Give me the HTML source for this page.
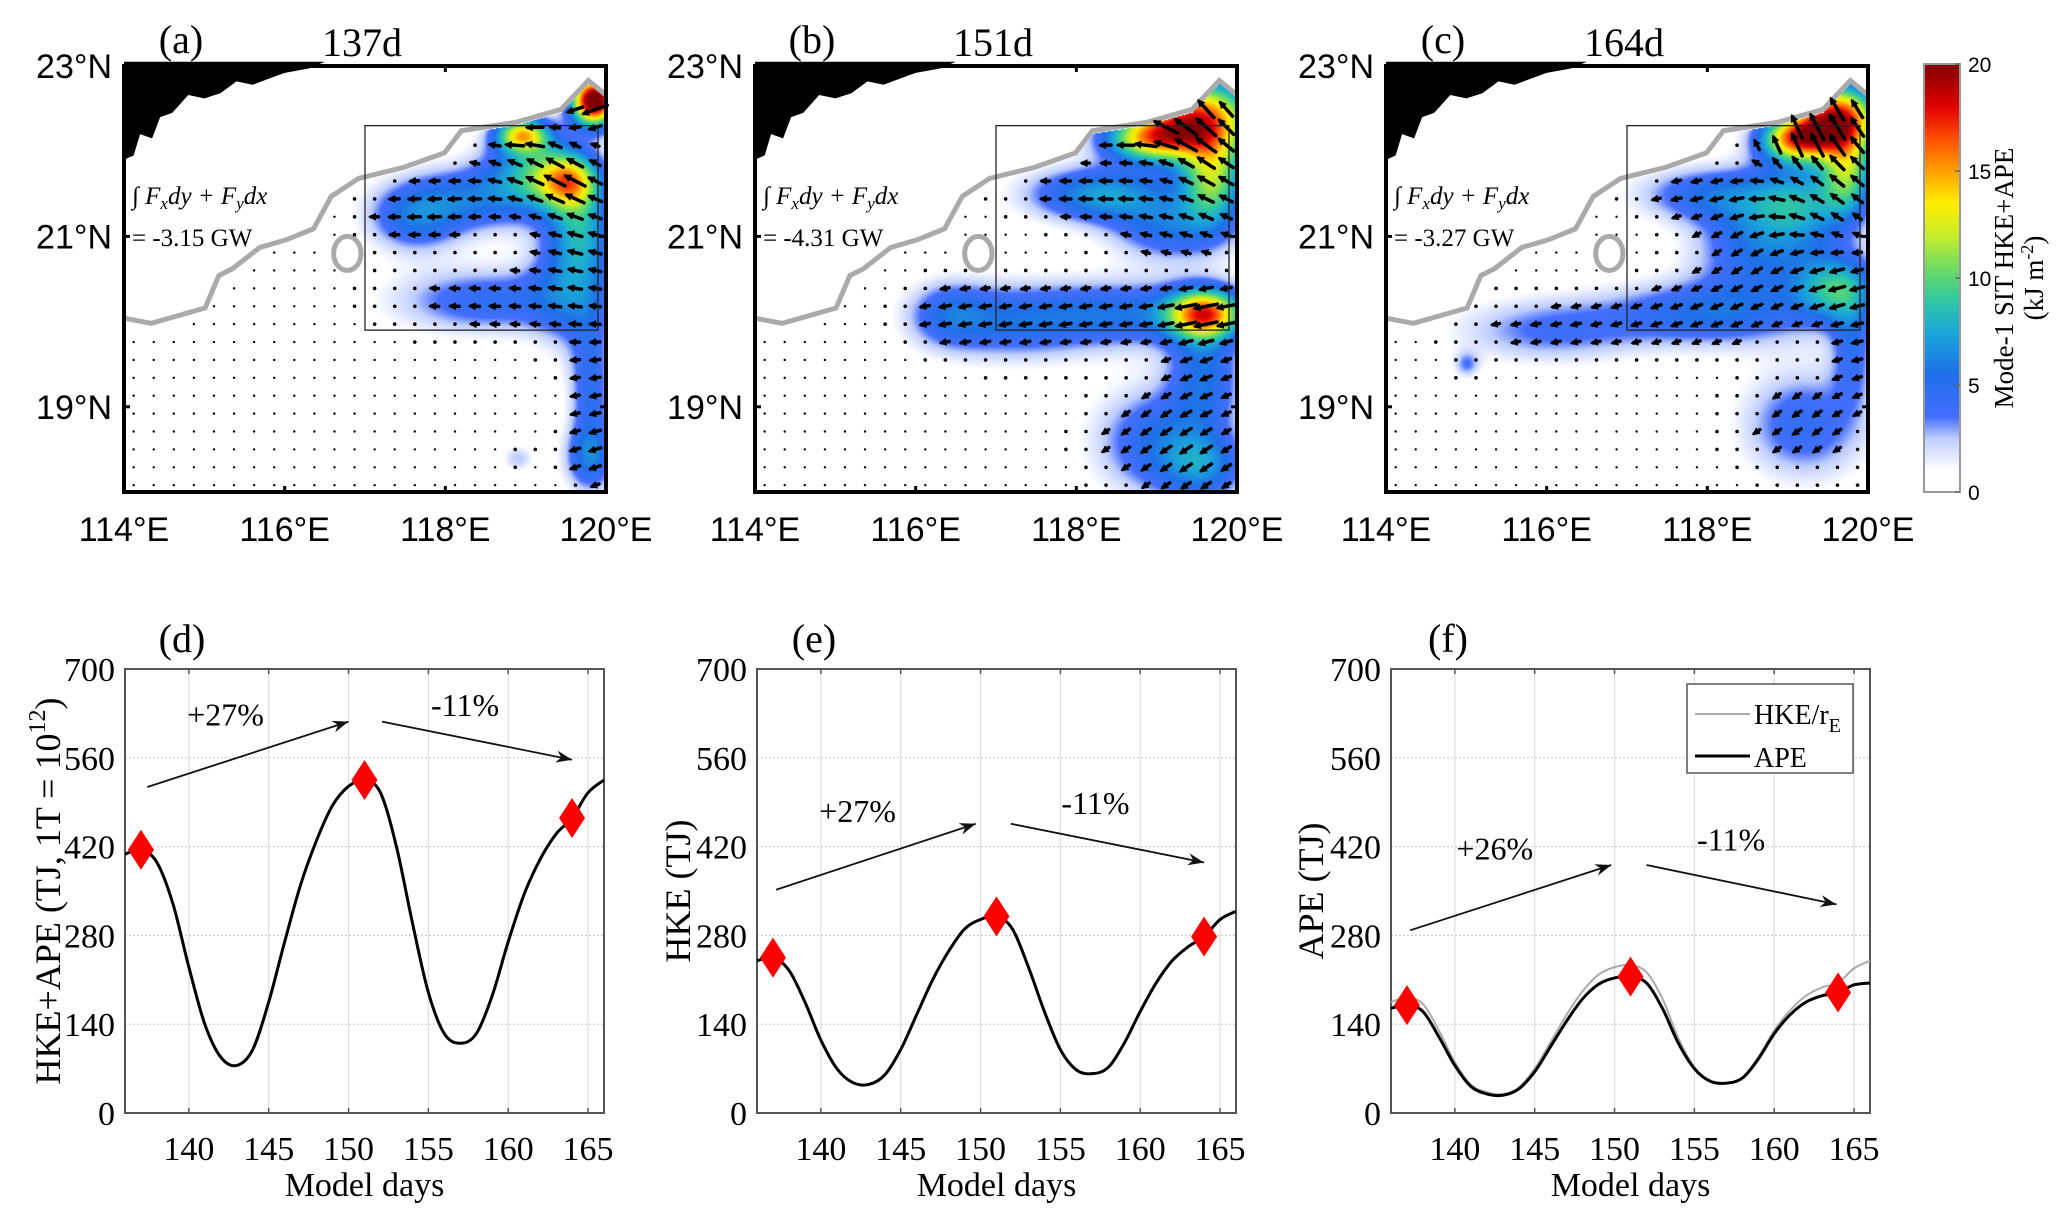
<!DOCTYPE html>
<html><head><meta charset="utf-8">
<style>
html,body{margin:0;padding:0;background:#fff;}
#wrap{position:relative;width:2067px;height:1216px;overflow:hidden;background:#fff;}
canvas{position:absolute;}
svg{position:absolute;left:0;top:0;}
</style></head>
<body>
<div id="wrap">
<canvas id="cv0" width="482" height="426" style="left:124px;top:66px"></canvas>
<canvas id="cv1" width="482" height="426" style="left:755px;top:66px"></canvas>
<canvas id="cv2" width="482" height="426" style="left:1386px;top:66px"></canvas>
<svg id="svg" width="2067" height="1216" xmlns="http://www.w3.org/2000/svg"></svg>
</div>
<script>
// ---------- line chart data ----------
const days = [136,137,138,139,140,141,142,143,144,145,146,147,148,149,150,151,152,153,154,155,156,157,158,159,160,161,162,163,164,165,166];
const hkeApe = [408,415,395,330,230,140,88,75,100,175,270,360,430,485,515,525,505,420,300,190,125,110,125,185,270,345,400,440,465,505,525];
const hke = [240,245,225,175,115,70,48,45,60,100,155,210,255,290,305,310,290,230,160,100,68,62,72,110,160,205,240,262,278,305,318];
const ape = [165,170,160,120,75,42,30,28,38,65,105,145,180,203,213,215,205,165,110,70,50,47,55,85,125,155,175,185,190,202,205];
const hkeRe = [175,182,172,130,80,45,33,30,40,70,112,155,192,218,230,233,222,180,118,72,50,47,55,88,130,162,185,198,205,228,240];
const markerDays = [137,151,164];
const yTicks = [0,140,280,420,560,700];
const xTicks = [140,145,150,155,160,165];
const cbTicks = [0,5,10,15,20];
const latTicks = [19,21,23];
const lonTicks = [114,116,118,120];

// ---------- map data: blobs [lon, lat, rx, ry, level, direction(deg)] ----------
const blobsA = [[119.85,22.6,0.22,0.22,22,200],[118.95,22.2,0.25,0.15,12,190],[119.55,21.65,0.3,0.25,11,150],[119.1,21.8,0.45,0.35,7,150],[118.3,21.45,0.7,0.3,5,185],[117.6,21.2,0.45,0.3,4.5,180],[118.5,20.25,0.9,0.3,4.5,178],[119.6,20.5,0.4,0.6,5,170],[119.7,21.1,0.3,0.4,5,160],[119.8,19.2,0.2,0.6,4.5,190],[119.8,18.4,0.25,0.3,5,200],[118.9,18.4,0.15,0.12,2.5,180]];
const blobsB = [[119.5,22.4,0.55,0.35,16,130],[118.9,22.15,0.45,0.2,11,190],[119.7,21.7,0.3,0.4,10,150],[118.3,21.5,0.7,0.25,7,180],[119.2,21.1,0.6,0.3,5,165],[119.6,20.1,0.35,0.22,14,190],[118.7,20.1,0.9,0.3,5,190],[117.2,20.0,0.8,0.35,4.5,190],[116.4,20.1,0.4,0.3,3.5,190],[119.6,19.4,0.35,0.5,5,200],[119.0,18.6,0.6,0.5,5,215],[119.6,18.3,0.4,0.3,5,215]];
const blobsC = [[119.6,22.4,0.4,0.3,17,120],[119.1,22.15,0.35,0.2,14,110],[119.75,21.8,0.25,0.4,9,140],[119.2,21.4,0.5,0.4,6,140],[118.0,21.5,0.7,0.25,4.5,190],[118.6,20.9,0.6,0.5,5,215],[119.6,20.4,0.4,0.3,8,195],[118.0,20.1,1.0,0.3,5,200],[116.0,19.9,0.9,0.3,3.5,190],[115.0,19.5,0.12,0.12,3,180],[119.2,18.8,0.6,0.5,4.5,215],[119.8,19.7,0.2,0.5,4,190]];
const coast = [[114.0,20.04],[114.34,19.98],[115.01,20.16],[115.18,20.54],[115.35,20.62],[115.69,20.87],[116.02,20.96],[116.36,21.09],[116.58,21.47],[116.92,21.68],[117.48,21.81],[117.99,21.98],[118.2,22.24],[118.88,22.34],[119.44,22.49],[119.78,22.83],[120.0,22.66]];
const land = [[114,23.05],[116.5,23.05],[116.3,22.97],[116.0,22.92],[115.8,22.85],[115.6,22.78],[115.4,22.82],[115.2,22.68],[115.0,22.62],[114.8,22.66],[114.6,22.45],[114.45,22.4],[114.35,22.15],[114.2,22.2],[114.12,21.95],[114,21.9]];

const MAPS = [
 {x0:124,lab:'(a)',day:'137d',flux:'= -3.15 GW',blobs:blobsA,cv:'cv0',key:'a'},
 {x0:755,lab:'(b)',day:'151d',flux:'= -4.31 GW',blobs:blobsB,cv:'cv1',key:'b'},
 {x0:1386,lab:'(c)',day:'164d',flux:'= -3.27 GW',blobs:blobsC,cv:'cv2',key:'c'}
];
const MY0=66, MW=482, MH=426;

const NS='http://www.w3.org/2000/svg';
const svg=document.getElementById('svg');
function el(tag,attrs,parent){const e=document.createElementNS(NS,tag);for(const k in attrs)e.setAttribute(k,attrs[k]);(parent||svg).appendChild(e);return e;}
function txt(s,attrs,parent){const e=el('text',attrs,parent);e.textContent=s;return e;}

const stops=[[0,[255,255,255]],[1,[255,255,255]],[2.5,[190,205,255]],[3.5,[70,110,255]],[5.5,[31,111,232]],[7.5,[26,168,216]],[9,[48,200,160]],[10.5,[112,220,96]],[12,[200,236,40]],[13.5,[255,238,0]],[15,[255,160,0]],[16.5,[255,80,0]],[18,[224,0,0]],[20,[128,0,0]]];
function cmap(v){if(v<=0)return stops[0][1];if(v>=20)return stops[stops.length-1][1];
 for(let i=1;i<stops.length;i++){if(v<=stops[i][0]){const a=stops[i-1],b=stops[i],t=(v-a[0])/(b[0]-a[0]);return [0,1,2].map(k=>Math.round(a[1][k]+(b[1][k]-a[1][k])*t));}}return [128,0,0];}
function coastLat(lon){for(let i=1;i<coast.length;i++){if(lon<=coast[i][0]){const a=coast[i-1],b=coast[i];const t=(lon-a[0])/(b[0]-a[0]);return a[1]+(b[1]-a[1])*t;}}return coast[coast.length-1][1];}
function field(blobs,lon,lat){let v=0,dx=0,dy=0;for(const b of blobs){const u=(lon-b[0])/b[2],w=(lat-b[1])/b[3];const c=b[4]*Math.exp(-0.6*(u*u+w*w));v+=c;const a=b[5]*Math.PI/180;dx+=c*Math.cos(a);dy+=c*Math.sin(a);}return {v,dx,dy};}
const isl={lon:116.78,lat:20.8,rx:0.17,ry:0.2};
function inIsland(lon,lat){const u=(lon-isl.lon)/isl.rx,w=(lat-isl.lat)/isl.ry;return u*u+w*w<1.3;}

MAPS.forEach(m=>{
 const lx=lon=>m.x0+(lon-114)/6*MW, ly=lat=>MY0+(23-lat)/5*MH;
 const ctx=document.getElementById(m.cv).getContext('2d');
 const img=ctx.createImageData(MW,MH);
 for(let j=0;j<MH;j++){const lat=23-j/MH*5;
  for(let i=0;i<MW;i++){const lon=114+i/MW*6;let c=[255,255,255];
   if(lat<coastLat(lon)-0.03 && !inIsland(lon,lat)){c=cmap(field(m.blobs,lon,lat).v);}
   const p=(j*MW+i)*4;img.data[p]=c[0];img.data[p+1]=c[1];img.data[p+2]=c[2];img.data[p+3]=255;}}
 ctx.putImageData(img,0,0);
 const g=el('g',{});
 
 
 const lp=el('polygon',{points:land.map(p=>lx(p[0])+','+ly(p[1])).join(' '),fill:'#000'},g);
 
 
 const cl=el('polyline',{points:coast.map(p=>lx(p[0])+','+ly(p[1])).join(' '),fill:'none',stroke:'#aaa','stroke-width':5},g);
 
 
 const ie=el('ellipse',{cx:lx(isl.lon),cy:ly(isl.lat),rx:isl.rx/6*MW,ry:isl.ry/5*MH,fill:'#fff',stroke:'#aaa','stroke-width':5},g);
 
 
 const qg=el('g',{},g);
 
 
 for(let lon=114.12;lon<120;lon+=0.25){for(let lat=18.08;lat<22.9;lat+=0.21){
   if(lat>coastLat(lon)-0.1||inIsland(lon,lat+0.02))continue;
   const f=field(m.blobs,lon,lat);const x=lx(lon),y=ly(lat);
   if(f.v<2.5){el('circle',{cx:x,cy:y,r:f.v<0.5?1.2:1.8,fill:'#000'},qg);continue;}
   const n=Math.hypot(f.dx,f.dy)||1;const ux=f.dx/n,uy=-f.dy/n;const L=Math.min(28,4+f.v*1.1);
   const x1=x-ux*L/2,y1=y-uy*L/2,x2=x+ux*L/2,y2=y+uy*L/2;
   el('line',{x1:x1,y1:y1,x2:x2,y2:y2,stroke:'#000','stroke-width':3.5,'stroke-linecap':'round'},qg);
   const hx=x2+ux*3,hy=y2+uy*3,px=-uy,py=ux;
   el('polygon',{points:`${hx},${hy} ${x2-ux*5+px*4},${y2-uy*5+py*4} ${x2-ux*5-px*4},${y2-uy*5-py*4}`,fill:'#000'},qg);
 }}
 const bx=el('rect',{x:lx(117),y:ly(22.3),width:lx(119.9)-lx(117),height:ly(19.9)-ly(22.3),fill:'none',stroke:'#222','stroke-width':1.3},g);
 
 
 el('rect',{x:m.x0,y:MY0,width:MW,height:MH,fill:'none',stroke:'#000','stroke-width':4},g);
 lonTicks.forEach(t=>{const x=lx(t);el('line',{x1:x,y1:MY0+MH,x2:x,y2:MY0+MH-6,stroke:'#000','stroke-width':3},g);el('line',{x1:x,y1:MY0,x2:x,y2:MY0+6,stroke:'#000','stroke-width':3},g);
  const t1=txt(t+'°E',{x:x,y:MY0+MH+49,'font-family':'Liberation Sans, sans-serif','font-size':34,'text-anchor':'middle'},g);
  });
 latTicks.forEach(t=>{const y=ly(t);el('line',{x1:m.x0,y1:y,x2:m.x0+6,y2:y,stroke:'#000','stroke-width':3},g);el('line',{x1:m.x0+MW,y1:y,x2:m.x0+MW-6,y2:y,stroke:'#000','stroke-width':3},g);
  const t1=txt(t+'°N',{x:m.x0-12,y:y+12,'font-family':'Liberation Sans, sans-serif','font-size':34,'text-anchor':'end'},g);
  });
 const tl=txt(m.lab,{x:m.x0+57,y:53,'font-family':'Liberation Serif, serif','font-size':40,'text-anchor':'middle'},g);
 
 const td=txt(m.day,{x:m.x0+MW/2-3,y:56,'font-family':'Liberation Serif, serif','font-size':40,'text-anchor':'middle'},g);
 
 const f1=txt('∫ ',{x:m.x0+8,y:204,'font-family':'Liberation Serif, serif','font-size':25},g);
 
 const ts=el('tspan',{'font-style':'italic'},f1);ts.textContent='F';
 const s1=el('tspan',{'font-style':'italic','font-size':17,dy:5},f1);s1.textContent='x';
 const s2=el('tspan',{'font-style':'italic',dy:-5},f1);s2.textContent='dy + F';
 const s3=el('tspan',{'font-style':'italic','font-size':17,dy:5},f1);s3.textContent='y';
 const s4=el('tspan',{'font-style':'italic',dy:-5},f1);s4.textContent='dx';
 const f2=txt(m.flux,{x:m.x0+8,y:246,'font-family':'Liberation Serif, serif','font-size':25},g);
 
});

(function(){
 const x=1924,w=36,y0=64,y1=492;
 const defs=el('defs',{});const lg=el('linearGradient',{id:'cbg',x1:0,y1:1,x2:0,y2:0},defs);
 stops.forEach(s=>{const c=s[1];el('stop',{offset:s[0]/20,'stop-color':`rgb(${c[0]},${c[1]},${c[2]})`},lg);});
 const g=el('g',{});
 el('rect',{x:x,y:y0,width:w,height:y1-y0,fill:'url(#cbg)',stroke:'#999','stroke-width':2},g);
 cbTicks.forEach(t=>{const y=y1-t/20*(y1-y0);el('line',{x1:x+w,y1:y,x2:x+w-5,y2:y,stroke:'#666','stroke-width':1.5},g);
  const tt=txt(t,{x:x+w+8,y:y+8,'font-family':'Liberation Sans, sans-serif','font-size':21},g);});
 const l1=txt('Mode-1 SIT HKE+APE',{x:0,y:0,'font-family':'Liberation Serif, serif','font-size':27,'text-anchor':'middle',transform:'translate(2013,278) rotate(-90)'},g);
 
 const l2=txt('(kJ m',{x:0,y:0,'font-family':'Liberation Serif, serif','font-size':27,'text-anchor':'middle',transform:'translate(2043,278) rotate(-90)'},g);
 
 const sp=el('tspan',{'font-size':18,dy:-10},l2);sp.textContent='-2';const sp2=el('tspan',{dy:10},l2);sp2.textContent=')';
})();

const PLOTS=[
 {x0:125,lab:'(d)',ylab:'HKE+APE (TJ, 1T = 10',sup:'12',labx:60,series:[hkeApe],colors:['#000'],
  ann:[[137.4,514,150.0,617],[152.1,617,164.0,557]],annT:[['+27%',142.3,628],['-11%',157.3,643]],key:'d'},
 {x0:757,lab:'(e)',ylab:'HKE (TJ)',labx:690,series:[hke],colors:['#000'],
  ann:[[137.2,352,149.7,456],[151.9,456,164,395]],annT:[['+27%',142.3,476],['-11%',157.2,489]],key:'e'},
 {x0:1391,lab:'(f)',ylab:'APE (TJ)',labx:1323,series:[hkeRe,ape],colors:['#aaa','#000'],
  ann:[[137.2,288,149.8,391],[152.0,391,163.9,329]],annT:[['+26%',142.5,417],['-11%',157.3,431]],key:'f'}
];
const PY0=669,PY1=1113,PW=479;
function smoothPath(pts){let d='M'+pts[0][0]+','+pts[0][1];
 for(let i=0;i<pts.length-1;i++){const p0=pts[Math.max(0,i-1)],p1=pts[i],p2=pts[i+1],p3=pts[Math.min(pts.length-1,i+2)];
  const c1=[p1[0]+(p2[0]-p0[0])/6,p1[1]+(p2[1]-p0[1])/6],c2=[p2[0]-(p3[0]-p1[0])/6,p2[1]-(p3[1]-p1[1])/6];
  d+=` C${c1[0]},${c1[1]} ${c2[0]},${c2[1]} ${p2[0]},${p2[1]}`;}return d;}
PLOTS.forEach(p=>{
 const xs=d=>p.x0+(d-136)/30*PW, ys=v=>PY1-v/700*(PY1-PY0);
 const g=el('g',{});
 yTicks.forEach(t=>{const y=ys(t);if(t>0&&t<700)el('line',{x1:p.x0,y1:y,x2:p.x0+PW,y2:y,stroke:'#ccc','stroke-width':1.2,'stroke-dasharray':'2,2'},g);
  const tt=txt(t,{x:p.x0-10,y:y+12,'font-family':'Liberation Serif, serif','font-size':34,'text-anchor':'end'},g);});
 xTicks.forEach(t=>{const x=xs(t);el('line',{x1:x,y1:PY0,x2:x,y2:PY1,stroke:'#ddd','stroke-width':1.2},g);
  el('line',{x1:x,y1:PY1,x2:x,y2:PY1-5,stroke:'#555','stroke-width':1.5},g);el('line',{x1:x,y1:PY0,x2:x,y2:PY0+5,stroke:'#555','stroke-width':1.5},g);
  const tt=txt(t,{x:x,y:PY1+47,'font-family':'Liberation Serif, serif','font-size':34,'text-anchor':'middle'},g);});
 el('rect',{x:p.x0,y:PY0,width:PW,height:PY1-PY0,fill:'none',stroke:'#555','stroke-width':2},g);
 p.series.forEach((s,k)=>{const path=el('path',{d:smoothPath(days.map((d,i)=>[xs(d),ys(s[i])])),fill:'none',stroke:p.colors[k],'stroke-width':p.colors[k]==='#000'?3:2},g);
  });
 const ms=p.series[p.series.length-1];
 markerDays.forEach(md=>{const i=days.indexOf(md);const x=xs(md),y=ys(ms[i]);
  const dm=el('polygon',{points:`${x},${y-20} ${x+13},${y} ${x},${y+20} ${x-13},${y}`,fill:'#f00'},g);
  });
 p.ann.forEach(a=>{const x1=xs(a[0]),y1=ys(a[1]),x2=xs(a[2]),y2=ys(a[3]);
  const ag=el('g',{},g);
  el('line',{x1:x1,y1:y1,x2:x2,y2:y2,stroke:'#111','stroke-width':1.8},ag);
  const L=Math.hypot(x2-x1,y2-y1),ux=(x2-x1)/L,uy=(y2-y1)/L,px=-uy,py=ux;
  el('polygon',{points:`${x2},${y2} ${x2-ux*16+px*6},${y2-uy*16+py*6} ${x2-ux*11},${y2-uy*11} ${x2-ux*16-px*6},${y2-uy*16-py*6}`,fill:'#111'},ag);});
 p.annT.forEach(a=>{const tt=txt(a[0],{x:xs(a[1]),y:ys(a[2])+11,'font-family':'Liberation Serif, serif','font-size':32,'text-anchor':'middle'},g);});
 const tl=txt(p.lab,{x:p.x0+57,y:652,'font-family':'Liberation Serif, serif','font-size':40,'text-anchor':'middle'},g);
 const xl=txt('Model days',{x:p.x0+PW/2,y:1196,'font-family':'Liberation Serif, serif','font-size':34,'text-anchor':'middle'},g);
 const yl=txt(p.ylab,{x:0,y:0,'font-family':'Liberation Serif, serif','font-size':36,'text-anchor':'middle',transform:`translate(${p.labx},${(PY0+PY1)/2}) rotate(-90)`},g);
 
 if(p.sup){const s1=el('tspan',{'font-size':24,dy:-15},yl);s1.textContent=p.sup;const s2=el('tspan',{dy:15},yl);s2.textContent=')';}
});
(function(){
 const g=el('g',{});
 el('rect',{x:1687,y:684,width:166,height:89,fill:'#fff',stroke:'#555','stroke-width':1.5},g);
 el('line',{x1:1695,y1:714,x2:1750,y2:714,stroke:'#aaa','stroke-width':2},g);
 el('line',{x1:1695,y1:756,x2:1750,y2:756,stroke:'#000','stroke-width':3},g);
 const a=txt('HKE/r',{x:1754,y:724,'font-family':'Liberation Serif, serif','font-size':28},g);
 const s=el('tspan',{'font-size':20,dy:8},a);s.textContent='E';
 const b=txt('APE',{x:1754,y:767,'font-family':'Liberation Serif, serif','font-size':28},g);
})();
</script>
</body></html>
